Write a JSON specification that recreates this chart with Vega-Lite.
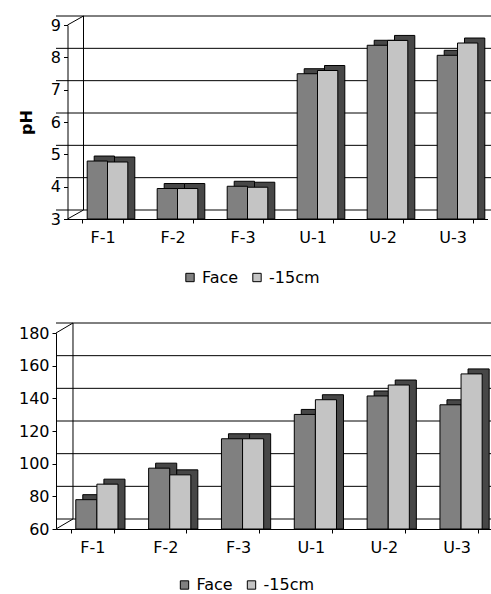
{
  "$schema": "https://vega.github.io/schema/vega-lite/v6.json",
  "padding": {"left": 18, "top": 15, "right": 0, "bottom": 5},
  "background": "white",
  "config": {
    "font": "DejaVu Sans",
    "view": {"stroke": null},
    "axis": {"labelFont": "DejaVu Sans", "labelColor": "black", "labelFontSize": 16, "domainColor": "black", "tickColor": "black", "grid": false, "domainWidth": 1, "tickWidth": 1, "zindex": 1},
    "legend": {"labelFont": "DejaVu Sans", "labelFontSize": 16, "labelColor": "black", "symbolType": "square", "symbolSize": 70, "symbolStrokeColor": "black", "symbolStrokeWidth": 1, "direction": "horizontal", "title": null, "columnPadding": 10, "labelOffset": 4, "padding": 0, "orient": "none"}
  },
  "datasets": {
    "ph": [
      {"site": "F-1", "series": "Face", "value": 4.70},
      {"site": "F-1", "series": "-15cm", "value": 4.67},
      {"site": "F-2", "series": "Face", "value": 3.85},
      {"site": "F-2", "series": "-15cm", "value": 3.85},
      {"site": "F-3", "series": "Face", "value": 3.92},
      {"site": "F-3", "series": "-15cm", "value": 3.89},
      {"site": "U-1", "series": "Face", "value": 7.40},
      {"site": "U-1", "series": "-15cm", "value": 7.50},
      {"site": "U-2", "series": "Face", "value": 8.28},
      {"site": "U-2", "series": "-15cm", "value": 8.43},
      {"site": "U-3", "series": "Face", "value": 7.97},
      {"site": "U-3", "series": "-15cm", "value": 8.35}
    ],
    "second": [
      {"site": "F-1", "series": "Face", "value": 75.5},
      {"site": "F-1", "series": "-15cm", "value": 85},
      {"site": "F-2", "series": "Face", "value": 94.8},
      {"site": "F-2", "series": "-15cm", "value": 90.7},
      {"site": "F-3", "series": "Face", "value": 112.8},
      {"site": "F-3", "series": "-15cm", "value": 112.8},
      {"site": "U-1", "series": "Face", "value": 127.7},
      {"site": "U-1", "series": "-15cm", "value": 136.7},
      {"site": "U-2", "series": "Face", "value": 139},
      {"site": "U-2", "series": "-15cm", "value": 145.7},
      {"site": "U-3", "series": "Face", "value": 133.6},
      {"site": "U-3", "series": "-15cm", "value": 152.5}
    ],
    "phgrid": [{"v": 3}, {"v": 4}, {"v": 5}, {"v": 6}, {"v": 7}, {"v": 8}, {"v": 9}],
    "grid2": [{"v": 60}, {"v": 80}, {"v": 100}, {"v": 120}, {"v": 140}, {"v": 160}, {"v": 180}],
    "wall1": [{"lo": 3, "hi": 9}],
    "wall2": [{"lo": 60, "hi": 180}],
    "corner1": [{"v": 3}, {"v": 9}],
    "corner2": [{"v": 60}, {"v": 180}]
  },
  "spacing": 36,
  "resolve": {"scale": {"fill": "independent"}, "legend": {"fill": "independent"}},
  "vconcat": [
    {
      "width": 432,
      "height": 194,
      "encoding": {
        "x": {"field": "site", "type": "nominal", "sort": ["F-1", "F-2", "F-3", "U-1", "U-2", "U-3"],
              "scale": {"domain": ["F-1", "F-2", "F-3", "U-1", "U-2", "U-3"], "range": [11.5, 431.5], "paddingInner": 0.42, "paddingOuter": 0.21},
              "axis": {"title": null, "tickBand": "extent", "labelAngle": 0, "labelPadding": 6, "tickSize": 4}},
        "y": {"field": "value", "type": "quantitative", "stack": null,
              "scale": {"domain": [3, 9], "zero": false, "nice": false},
              "axis": {"title": "pH", "offset": -11.5, "titleFontSize": 16, "titleFontWeight": "bold", "titleFont": "DejaVu Sans", "titleColor": "black", "titleX": -41, "titleAlign": "center", "titleBaseline": "middle", "values": [3, 4, 5, 6, 7, 8, 9], "tickSize": 4, "labelPadding": 3, "labelOverlap": false}}
      },
      "resolve": {"scale": {"xOffset": "independent"}},
      "layer": [
        {
          "data": {"name": "phgrid"},
          "mark": {"type": "rule", "color": "black", "strokeWidth": 1, "xOffset": 27.5, "yOffset": -9},
          "encoding": {"x": null, "y": {"field": "v", "type": "quantitative"}}
        },
        {
          "data": {"name": "wall1"},
          "mark": {"type": "rule", "color": "black", "strokeWidth": 1, "xOffset": 1.3, "yOffset": -9, "y2Offset": -9},
          "encoding": {
            "x": {"datum": "F-1", "type": "nominal", "bandPosition": 0},
            "y": {"field": "lo", "type": "quantitative"},
            "y2": {"field": "hi"}
          }
        },
        {
          "data": {"name": "corner1"},
          "mark": {"type": "rule", "color": "black", "strokeWidth": 1, "xOffset": -14.7, "x2Offset": 1.3, "y2Offset": -9},
          "encoding": {
            "x": {"datum": "F-1", "type": "nominal", "bandPosition": 0},
            "x2": {"datum": "F-1", "bandPosition": 0},
            "y": {"field": "v", "type": "quantitative"},
            "y2": {"field": "v"}
          }
        },
        {
          "data": {"name": "ph"},
          "mark": {"type": "bar", "fill": "#474747", "stroke": "black", "strokeWidth": 1, "yOffset": -8, "y2Offset": -8},
          "encoding": {
            "xOffset": {"field": "series", "sort": ["Face", "-15cm"], "scale": {"domain": ["Face", "-15cm"], "range": [12, 52.6], "paddingInner": 0, "paddingOuter": 0}}
          }
        },
        {
          "data": {"name": "ph"},
          "mark": {"type": "bar", "stroke": "black", "strokeWidth": 1, "yOffset": -3, "y2Offset": -3},
          "encoding": {
            "xOffset": {"field": "series", "sort": ["Face", "-15cm"], "scale": {"domain": ["Face", "-15cm"], "range": [5, 45.6], "paddingInner": 0, "paddingOuter": 0}},
            "fill": {"field": "series", "type": "nominal", "sort": ["Face", "-15cm"],
                     "scale": {"domain": ["Face", "-15cm"], "range": ["#808080", "#c4c4c4"]},
                     "legend": {"legendX": 126, "legendY": 244.5}}
          }
        }
      ]
    },
    {
      "width": 437,
      "height": 196,
      "encoding": {
        "x": {"field": "site", "type": "nominal", "sort": ["F-1", "F-2", "F-3", "U-1", "U-2", "U-3"],
              "scale": {"domain": ["F-1", "F-2", "F-3", "U-1", "U-2", "U-3"], "paddingInner": 0.42, "paddingOuter": 0.21},
              "axis": {"title": null, "tickBand": "extent", "labelAngle": 0, "labelPadding": 6, "tickSize": 4}},
        "y": {"field": "value", "type": "quantitative", "stack": null,
              "scale": {"domain": [60, 180], "zero": false, "nice": false},
              "axis": {"title": null, "values": [60, 80, 100, 120, 140, 160, 180], "tickSize": 4, "labelPadding": 3, "labelOverlap": false}}
      },
      "resolve": {"scale": {"xOffset": "independent"}},
      "layer": [
        {
          "data": {"name": "grid2"},
          "mark": {"type": "rule", "color": "black", "strokeWidth": 1, "xOffset": 17, "yOffset": -10},
          "encoding": {"x": null, "y": {"field": "v", "type": "quantitative"}}
        },
        {
          "data": {"name": "wall2"},
          "mark": {"type": "rule", "color": "black", "strokeWidth": 1, "xOffset": 1.7, "yOffset": -10, "y2Offset": -10},
          "encoding": {
            "x": {"datum": "F-1", "type": "nominal", "bandPosition": 0},
            "y": {"field": "lo", "type": "quantitative"},
            "y2": {"field": "hi"}
          }
        },
        {
          "data": {"name": "corner2"},
          "mark": {"type": "rule", "color": "black", "strokeWidth": 1, "xOffset": -15.3, "x2Offset": 1.7, "y2Offset": -10},
          "encoding": {
            "x": {"datum": "F-1", "type": "nominal", "bandPosition": 0},
            "x2": {"datum": "F-1", "bandPosition": 0},
            "y": {"field": "v", "type": "quantitative"},
            "y2": {"field": "v"}
          }
        },
        {
          "data": {"name": "second"},
          "mark": {"type": "bar", "fill": "#474747", "stroke": "black", "strokeWidth": 1, "yOffset": -9, "y2Offset": -9},
          "encoding": {
            "xOffset": {"field": "series", "sort": ["Face", "-15cm"], "scale": {"domain": ["Face", "-15cm"], "range": [11.5, 53.7], "paddingInner": 0, "paddingOuter": 0}}
          }
        },
        {
          "data": {"name": "second"},
          "mark": {"type": "bar", "stroke": "black", "strokeWidth": 1, "yOffset": -4, "y2Offset": -4},
          "encoding": {
            "xOffset": {"field": "series", "sort": ["Face", "-15cm"], "scale": {"domain": ["Face", "-15cm"], "range": [4.5, 46.7], "paddingInner": 0, "paddingOuter": 0}},
            "fill": {"field": "series", "type": "nominal", "sort": ["Face", "-15cm"],
                     "scale": {"domain": ["Face", "-15cm"], "range": ["#808080", "#c4c4c4"]},
                     "legend": {"legendX": 120.5, "legendY": 244}}
          }
        }
      ]
    }
  ]
}
